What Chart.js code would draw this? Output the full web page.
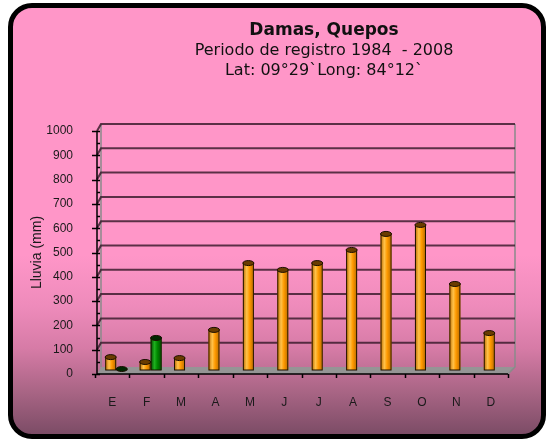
<!DOCTYPE html>
<html>
<head>
<meta charset="utf-8">
<script src="https://cdn.jsdelivr.net/npm/chart.js@4/dist/chart.umd.min.js"></script>
<style>
html, body { margin: 0; padding: 0; background: #fff; }
#card {
    position: absolute; left: 8px; top: 3px; width: 528px; height: 426px;
    border: 5.5px solid #000; border-radius: 24px;
    background: linear-gradient(to bottom, #ff96c8 0%, #ff96c8 58%, #ee8bbb 70%, #d67ba6 80%, #a96585 90%, #7c4c66 100%);
}
#chart { position: absolute; left: 0; top: 0; }
</style>
</head>
<body>
<div id="card"></div>
<canvas id="chart" width="548" height="440"></canvas>
<script>
const titleLines = ['Damas, Quepos', 'Periodo de registro 1984  - 2008', 'Lat: 09°29`Long: 84°12`'];
const months = ['E', 'F', 'M', 'A', 'M', 'J', 'J', 'A', 'S', 'O', 'N', 'D'];
const rainfall = [53, 33, 49, 165, 440, 412, 440, 494, 560, 597, 354, 152];
const secondSeries = [4, 132, null, null, null, null, null, null, null, null, null, null];
const yTicks = [0, 100, 200, 300, 400, 500, 600, 700, 800, 900, 1000];

// colours for the cylinder shading: [edge, light, cap]
const shades = [
    ['#b86a00', '#ffc24a', '#6a3c00'],
    ['#004a00', '#1fb01f', '#002800']
];

const header = {
    id: 'header',
    afterDraw(chart) {
        const c = chart.ctx;
        c.save();
        c.fillStyle = '#111';
        c.textAlign = 'center';
        c.textBaseline = 'middle';
        c.font = 'bold 17px "DejaVu Sans"';
        c.fillText(titleLines[0], 324, 31);
        c.font = '16px "DejaVu Sans"';
        c.fillText(titleLines[1], 324, 51);
        c.fillText(titleLines[2], 324, 71);
        c.restore();
    }
};

// fake 3d box: floor, back wall, front axes
const box3d = {
    id: 'box3d',
    beforeDatasetsDraw(chart) {
        const c = chart.ctx;
        const area = chart.chartArea;
        const y = chart.scales.y;
        const x = chart.scales.x;
        const dx = 6, dy = 7;
        const y0 = y.getPixelForValue(0);
        const yTop = y.getPixelForValue(1000);
        c.save();

        // floor
        c.beginPath();
        c.moveTo(area.left + 2, y0);
        c.lineTo(area.right, y0);
        c.lineTo(area.right + dx + 1, y0 - dy);
        c.lineTo(area.left + dx, y0 - dy);
        c.closePath();
        c.fillStyle = '#959595';
        c.fill();

        // back wall edges
        c.strokeStyle = '#8a8a8a';
        c.lineWidth = 1.5;
        c.beginPath();
        c.moveTo(area.left + dx, yTop - dy);
        c.lineTo(area.left + dx, y0 - dy);
        c.moveTo(area.right + dx + 1, yTop - dy);
        c.lineTo(area.right + dx + 1, y0 - dy);
        c.lineTo(area.right, y0);
        c.stroke();

        // gridlines on the back wall
        c.strokeStyle = 'rgba(50,22,38,0.8)';
        c.lineWidth = 2;
        yTicks.forEach(v => {
            if (v === 0) return;
            const py = y.getPixelForValue(v);
            c.beginPath();
            c.moveTo(area.left + 2, py);
            c.lineTo(area.left + dx, py - dy);
            c.lineTo(area.right + dx + 1, py - dy);
            c.stroke();
        });

        // front value axis
        c.strokeStyle = '#000';
        c.lineWidth = 1.5;
        c.beginPath();
        c.moveTo(area.left + 2, yTop);
        c.lineTo(area.left + 2, y0);
        for (let v = 0; v <= 1000; v += 50) {
            const py = Math.round(y.getPixelForValue(v)) + 0.5;
            c.moveTo(v % 100 === 0 ? area.left - 3 : area.left + 2, py);
            c.lineTo(area.left + 5, py);
        }
        c.stroke();

        // front category axis
        c.beginPath();
        c.moveTo(area.left + 2, y0);
        c.lineTo(area.right, y0);
        for (let i = 0; i <= months.length; i++) {
            const px = Math.round(x.left + i * x.width / months.length) + 0.5;
            c.moveTo(px, y0);
            c.lineTo(px, y0 + 4);
        }
        c.stroke();
        c.restore();

        // bars sit in the middle of the floor depth
        c.save();
        c.translate(4, -4);
    },
    afterDatasetsDraw(chart) {
        const c = chart.ctx;
        chart.data.datasets.forEach((ds, i) => {
            const meta = chart.getDatasetMeta(i);
            const [edge, light, cap] = shades[i];
            meta.data.forEach((bar, j) => {
                if (ds.data[j] === null) return;
                const p = bar.getProps(['x', 'y', 'base', 'width'], true);
                const l = p.x - p.width / 2;
                const g = c.createLinearGradient(l, 0, l + p.width, 0);
                g.addColorStop(0, edge);
                g.addColorStop(0.35, light);
                g.addColorStop(0.6, ds.backgroundColor);
                g.addColorStop(1, edge);
                c.fillStyle = g;
                c.fillRect(l + 1, p.y, p.width - 2, p.base - p.y);
                c.strokeStyle = '#1a0e00';
                c.lineWidth = 1;
                c.strokeRect(l + 0.5, p.y, p.width - 1, p.base - p.y);
                // top cap
                c.beginPath();
                c.ellipse(p.x, p.y, p.width / 2, 2.5, 0, 0, Math.PI * 2);
                c.fillStyle = cap;
                c.fill();
                c.stroke();
            });
        });
        c.restore();
    }
};

new Chart(document.getElementById('chart'), {
    type: 'bar',
    data: {
        labels: months,
        datasets: [
            { label: 'Lluvia', data: rainfall, backgroundColor: '#ff9a00', borderWidth: 0 },
            { label: 'Serie 2', data: secondSeries, backgroundColor: '#008a00', borderWidth: 0 }
        ]
    },
    options: {
        responsive: false,
        animation: false,
        categoryPercentage: 0.64,
        barPercentage: 1.0,
        layout: { padding: { left: 25, right: 40, top: 131, bottom: 0 } },
        plugins: {
            legend: { display: false },
            tooltip: { enabled: false }
        },
        scales: {
            x: {
                grid: { display: false, drawTicks: false },
                border: { display: false },
                ticks: { color: '#1a1a1a', padding: 21, font: { family: 'Liberation Sans', size: 12 } },
                afterFit(scale) { scale.height = 66; }
            },
            y: {
                min: 0,
                max: 1000,
                afterBuildTicks(scale) { scale.ticks = yTicks.map(v => ({ value: v })); },
                grid: { display: false, drawTicks: false },
                border: { display: false },
                ticks: {
                    color: '#1a1a1a',
                    padding: 22,
                    font: { family: 'Liberation Sans', size: 12 },
                    callback: v => String(v)
                },
                title: {
                    display: true,
                    text: 'Lluvia (mm)',
                    color: '#1a1a1a',
                    font: { family: 'Liberation Sans', size: 14 }
                },
                afterFit(scale) { scale.width = 70; }
            }
        }
    },
    plugins: [header, box3d]
});
</script>
</body>
</html>
